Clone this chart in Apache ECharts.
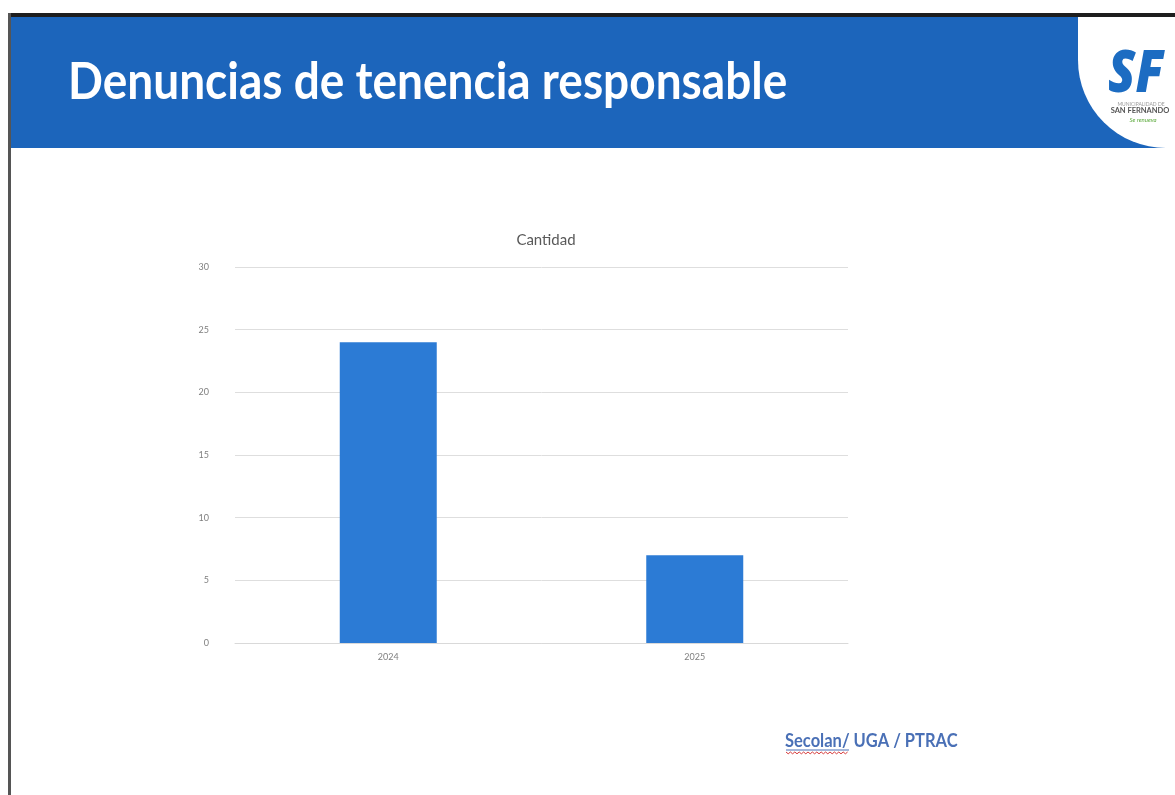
<!DOCTYPE html>
<html>
<head>
<meta charset="utf-8">
<style>
  html, body { margin: 0; padding: 0; background: #ffffff; }
  #chart { width: 1175px; height: 795px; }
</style>
<script src="https://cdn.jsdelivr.net/npm/echarts@6/dist/echarts.min.js"></script>
</head>
<body>
<div id="chart"></div>
<script>
// Denuncias por año
const categories = ['2024', '2025'];
const cantidad = [24, 7];
const yTicks = { min: 0, max: 30, interval: 5 };

const headerBlue = '#1c65bb';
const barBlue = '#2c7bd5';

const chart = echarts.init(document.getElementById('chart'), null, { renderer: 'canvas' });

// red spell-check squiggle under "Secolan"
const squiggle = [];
for (let i = 0; i <= 28; i++) {
  squiggle.push([786 + i * 2.2, 752 + (i % 2 === 0 ? 0 : 1.8)]);
}

chart.setOption({
  backgroundColor: '#ffffff',
  animation: false,
  title: {
    text: 'Cantidad',
    left: 541,
    top: 228,
    textAlign: 'center',
    textStyle: { fontFamily: 'Lato', fontSize: 15, fontWeight: 'normal', color: '#595959' }
  },
  grid: { left: 235, right: 327, top: 267, bottom: 152, containLabel: false },
  xAxis: {
    type: 'category',
    data: categories,
    axisLine: { show: true, lineStyle: { color: '#d9d9d9', width: 1 } },
    axisTick: { show: false },
    axisLabel: { color: '#7f7f7f', fontFamily: 'Lato', fontSize: 9, margin: 10 }
  },
  yAxis: {
    type: 'value',
    min: yTicks.min,
    max: yTicks.max,
    interval: yTicks.interval,
    axisLine: { show: false },
    axisTick: { show: false },
    axisLabel: { color: '#7f7f7f', fontFamily: 'Lato', fontSize: 9, margin: 26 },
    splitLine: { lineStyle: { color: '#dedede', width: 1 } }
  },
  series: [{
    type: 'bar',
    data: cantidad,
    barWidth: 97,
    itemStyle: { color: barBlue }
  }],
  graphic: [
    // slide frame
    { type: 'rect', shape: { x: 8, y: 13, width: 1167, height: 4 }, style: { fill: '#1e1e1e' }, z: 10 },
    { type: 'rect', shape: { x: 8, y: 13, width: 3, height: 782 }, style: { fill: '#555555' }, z: 10 },
    // header band
    { type: 'rect', shape: { x: 11, y: 17, width: 1164, height: 131 }, style: { fill: headerBlue }, z: 1 },
    // logo panel with rounded lower-left corner
    { type: 'rect', shape: { x: 1078, y: 17, width: 110, height: 131, r: [0, 0, 0, 88] }, style: { fill: '#ffffff' }, z: 2 },
    {
      type: 'text', x: 1136, y: 76, z: 3, scaleY: 1.15, originX: 0, originY: 0,
      style: { text: 'SF', fontFamily: 'Open Sans', fontWeight: 800, fontStyle: 'italic', fontSize: 50, fill: '#1c6cc2', align: 'center', verticalAlign: 'middle' }
    },
    {
      type: 'text', x: 1141, y: 104, z: 3,
      style: { text: 'MUNICIPALIDAD DE', fontFamily: 'Lato', fontSize: 5, fill: '#9a9a9a', align: 'center', verticalAlign: 'middle' }
    },
    {
      type: 'text', x: 1140, y: 111, z: 3,
      style: { text: 'SAN FERNANDO', fontFamily: 'Lato', fontWeight: 'bold', fontSize: 7.5, fill: '#555555', align: 'center', verticalAlign: 'middle' }
    },
    {
      type: 'text', x: 1143, y: 120, z: 3,
      style: { text: 'Se renueva', fontFamily: 'Lato', fontStyle: 'italic', fontSize: 6, fill: '#5aa93a', align: 'center', verticalAlign: 'middle' }
    },
    // slide heading
    {
      type: 'text', x: 68, y: 82, z: 3, scaleY: 1.12, originX: 0, originY: 0,
      style: { text: 'Denuncias de tenencia responsable', fontFamily: 'Lato', fontWeight: 'bold', fontSize: 46, fill: '#ffffff', align: 'left', verticalAlign: 'middle' }
    },
    // source note
    {
      type: 'text', x: 785, y: 741, z: 3, scaleY: 1.15, originX: 0, originY: 0,
      style: { text: 'Secolan/ UGA / PTRAC', fontFamily: 'Lato', fontWeight: 'bold', fontSize: 16.5, fill: '#4a70b6', align: 'left', verticalAlign: 'middle' }
    },
    { type: 'line', z: 3, shape: { x1: 786, y1: 750, x2: 849, y2: 750 }, style: { stroke: '#4a70b6', lineWidth: 1 } },
    { type: 'polyline', z: 3, shape: { points: squiggle }, style: { stroke: '#d63a3a', lineWidth: 1, fill: null } }
  ]
});
</script>
</body>
</html>
